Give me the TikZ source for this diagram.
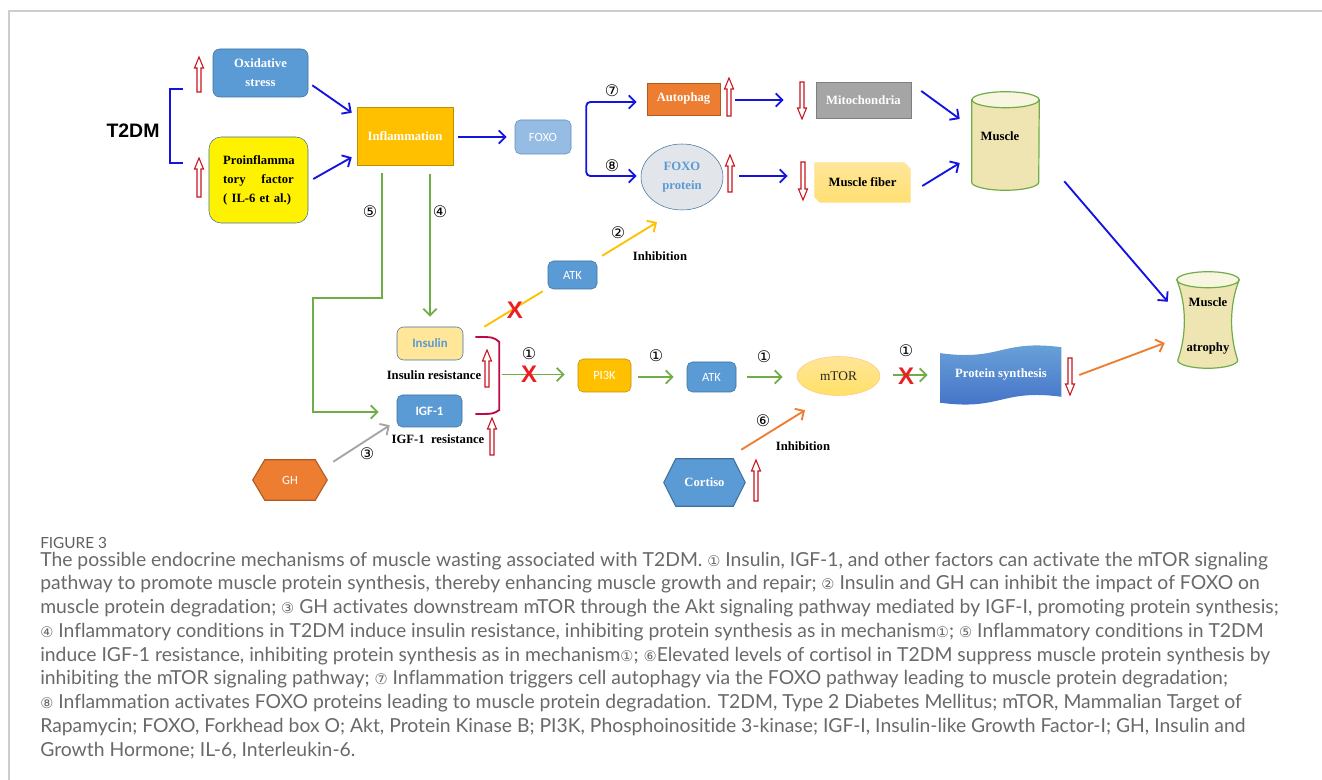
\documentclass[tikz,border=0pt]{standalone}
\usepackage{fontspec}
\setmainfont{Liberation Serif}
\newfontfamily\capfont[Ligatures=NoCommon]{Lato}
\newfontfamily\calfont{Carlito}
\newfontfamily\arfont{Liberation Sans}
\newfontfamily\symfont{DejaVu Sans}
\usetikzlibrary{arrows.meta,shapes.geometric,backgrounds,calc}
\definecolor{cblue}{RGB}{20,20,225}
\definecolor{cgreen}{RGB}{112,173,71}
\definecolor{cyel}{RGB}{255,192,0}
\definecolor{corg}{RGB}{237,125,49}
\definecolor{cgray}{RGB}{165,165,165}
\definecolor{cred}{RGB}{200,20,30}
\definecolor{cx}{RGB}{235,30,35}
\definecolor{ccrim}{RGB}{190,10,70}
\definecolor{bfill}{RGB}{91,155,213}
\definecolor{bdraw}{RGB}{65,113,156}
\definecolor{lfill}{RGB}{150,188,228}
\definecolor{ldraw}{RGB}{95,140,195}
\definecolor{ofill}{RGB}{237,125,49}
\definecolor{odraw}{RGB}{174,90,33}
\definecolor{yfill}{RGB}{255,192,0}
\definecolor{ydraw}{RGB}{191,144,0}
\definecolor{mgray}{RGB}{127,127,127}
\definecolor{egray}{RGB}{226,229,234}
\definecolor{capgray}{RGB}{105,105,105}
\definecolor{figgray}{RGB}{95,95,95}
\definecolor{framegray}{RGB}{205,205,205}
\definecolor{musfill}{RGB}{238,229,178}
\definecolor{insfill}{RGB}{255,230,153}
\newcommand\ccap[1]{{\symfont\fontsize{11}{12}\selectfont #1}}
\newcommand\hup[3]{\draw[hollow] (#1-2,#3) -- (#1-2,#2+11) -- (#1-4.5,#2+11) -- (#1,#2) -- (#1+4.5,#2+11) -- (#1+2,#2+11) -- (#1+2,#3) -- cycle;}
\newcommand\hdn[3]{\draw[hollow] (#1-2,#2) -- (#1-2,#3-11) -- (#1-4.5,#3-11) -- (#1,#3) -- (#1+4.5,#3-11) -- (#1+2,#3-11) -- (#1+2,#2) -- cycle;}
\tikzset{
  sz/.style 2 args={minimum width=#1*0.75pt, minimum height=#2*0.75pt, inner sep=0pt},
  lbl/.style={font=\fontsize{9.5}{14.25}\selectfont\bfseries},
  cal/.style={font=\calfont\fontsize{9.4}{11}\selectfont},
  hollow/.style={draw=cred, fill=white, line width=0.8pt},
  tipb/.style={-{Straight Barb[length=5pt,width=10pt]}},
  barrow/.style={draw=cblue, line width=1.4pt, tipb},
  garrow/.style={draw=cgreen, line width=1.4pt, tipb},
  oarrow/.style={draw=corg, line width=1.4pt, tipb},
  yarrow/.style={draw=cyel, line width=1.4pt, tipb},
  grarrow/.style={draw=cgray, line width=1.4pt, tipb},
  xmark/.style={font=\arfont\bfseries\fontsize{18}{18}\selectfont, text=cx, inner sep=0pt},
  num/.style={font=\symfont\fontsize{12}{12}\selectfont, inner sep=0pt},
  captxt/.style={font=\capfont\fontsize{14.5}{17}\selectfont, text=capgray, inner sep=0pt, anchor=base west},
}
\begin{document}
\begin{tikzpicture}[x=0.75pt,y=-0.75pt]
\useasboundingbox (0,0) rectangle (1322,780);
\begin{scope}[on background layer]
\fill[white] (0,0) rectangle (1322,780);
\end{scope}
\draw[framegray, line width=1.1pt] (9,780) -- (9,11) -- (1322,11);

% ---------- nodes ----------
\node[font=\arfont\bfseries\fontsize{14.6}{16}\selectfont] (t2dm) at (133,131) {T2DM};
\node[fill=bfill, draw=bdraw, rounded corners=5pt, sz={95}{48}, text=white, lbl, align=center] (ox) at (260.5,73) {Oxidative\\stress};
\node[fill=yellow, draw=bdraw, rounded corners=9pt, sz={99}{86}] (pro) at (258.5,180) {};
\node[lbl, text width=53pt, align=left, inner sep=0pt] (protxt) at (258.5,180) {Proinflamma\\tory\hfill factor\\( IL-6 et al.)};
\node[fill=yfill, draw=ydraw, sz={96}{58}, text=white, lbl] (inf) at (405,136) {Inflammation};
\node[fill=lfill, draw=ldraw, rounded corners=4pt, sz={56}{34}, text=white, cal] (foxo) at (543,137) {FOXO};
\node[fill=ofill, draw=odraw, sz={73}{32}, text=white, lbl] (aut) at (683.5,99) {Autophag};
\node[fill=cgray, draw=mgray, sz={95}{36}, text=white, lbl] (mito) at (863.5,100) {Mitochondria};
\node[ellipse, fill=egray, draw=bdraw, sz={82}{66}, text=bfill, lbl, align=center] (foxop) at (682,177) {FOXO\\protein};
\node[sz={95}{39}, lbl] (fiber) at (862.5,182.5) {Muscle fiber};
\node[sz={67}{98}] (muscle) at (1005.5,141) {};
\node[lbl] (muscletxt) at (1000,136) {Muscle};
\node[sz={62}{96}] (atro) at (1208,320) {};
\node[font=\fontsize{9.5}{33.75}\selectfont\bfseries, align=center, inner sep=0pt] (atrotxt) at (1208,325.5) {Muscle\\atrophy};
\node[sz={120}{55}] (ps) at (1001,375) {};
\node[lbl, text=white] (pstxt) at (1001,374) {Protein synthesis};
\node[ellipse, top color=insfill, bottom color=yellow!60!orange!60, draw=orange!45, sz={83}{39}, font=\fontsize{10}{12}\selectfont, text=black!85] (mtor) at (838.5,376) {mTOR};
\node[fill=bfill, draw=bdraw, rounded corners=4pt, sz={49}{30}, text=white, cal] (atk2) at (711.5,377) {ATK};
\node[fill=yfill, draw=ydraw, rounded corners=4pt, sz={53}{33}, text=white, cal] (pi3k) at (604.5,375.5) {PI3K};
\node[fill=bfill, draw=bdraw, rounded corners=4pt, sz={49}{28}, text=white, cal] (atk1) at (572.5,275) {ATK};
\node[fill=insfill, draw=bdraw, rounded corners=5pt, sz={66}{33}, text=bfill, font=\calfont\bfseries\fontsize{9.6}{11}\selectfont] (ins) at (430,343.5) {Insulin};
\node[fill=bfill, draw=bdraw, rounded corners=4pt, sz={65}{32}, text=white, font=\calfont\bfseries\fontsize{9.6}{11}\selectfont] (igf) at (429.5,411) {IGF-1};
\node[sz={74}{40}, text=white, cal] (gh) at (290,480) {GH};
\node[sz={81}{47}, text=white, lbl] (cort) at (704.5,482.5) {Cortiso};

\node[lbl] (insres) at (434,375) {Insulin resistance};
\node[lbl] (igfres) at (438,439) {IGF-1\ \ resistance};
\node[lbl] (inh1) at (660,256) {Inhibition};
\node[lbl] (inh2) at (803,446) {Inhibition};

\node[num] (n7) at (612,91) {⑦};
\node[num] (n8) at (612,166) {⑧};
\node[num] (n5) at (370,212) {⑤};
\node[num] (n4) at (440,212) {④};
\node[num] (n1a) at (529,354) {①};
\node[num] (n1b) at (656,356) {①};
\node[num] (n1c) at (764,357) {①};
\node[num] (n1d) at (906,351) {①};
\node[num] (n2) at (618,233) {②};
\node[num] (n3) at (367,454) {③};
\node[num] (n6) at (763,421) {⑥};

% ---------- custom shapes (background) ----------
\begin{scope}[on background layer]
\shade[top color=insfill, bottom color=yellow!55!orange!55, draw=insfill]
 (fiber.north west) -- ([shift={(-6,0)}]fiber.north east) -- ([shift={(0,6)}]fiber.north east)
 -- (fiber.south east) -- ([shift={(5,0)}]fiber.south west) -- ([shift={(0,-5)}]fiber.south west) -- cycle;
\filldraw[fill=musfill, draw=cgreen, line width=0.9pt]
 ($(muscle.north west)+(0,8)$) -- ($(muscle.south west)+(0,-8)$)
 arc[start angle=180, end angle=0, x radius=33.5, y radius=8] -- ($(muscle.north east)+(0,8)$) -- cycle;
\filldraw[fill=white!60!musfill, draw=cgreen, line width=0.9pt] ($(muscle.north)+(0,8)$) ellipse [x radius=33.5, y radius=8];
\filldraw[fill=musfill, draw=cgreen, line width=0.9pt]
 ($(atro.north west)+(0,8)$) .. controls ($(atro.north west)+(10,33)$) and ($(atro.south west)+(10,-33)$) .. ($(atro.south west)+(1,-8)$)
 arc[start angle=180, end angle=0, x radius=30, y radius=8]
 .. controls ($(atro.north east)+(-10,63)$) and ($(atro.north east)+(-10,33)$) .. ($(atro.north east)+(0,8)$) -- cycle;
\filldraw[fill=white!60!musfill, draw=cgreen, line width=0.9pt] ($(atro.north)+(0,8)$) ellipse [x radius=31, y radius=8];
\shade[top color=bfill!90!white, bottom color=bfill!80!blue!90!black]
 ($(ps.north west)+(0,6)$) .. controls ($(ps.north west)+(60,14)$) and ($(ps.north east)+(-60,-8)$) .. (ps.north east)
 -- ($(ps.south east)+(0,-6)$) .. controls ($(ps.south east)+(-60,-14)$) and ($(ps.south west)+(60,8)$) .. (ps.south west) -- cycle;
\filldraw[fill=ofill, draw=odraw, line width=0.8pt]
 (gh.west) -- ([shift={(12,0)}]gh.north west) -- ([shift={(-12,0)}]gh.north east) -- (gh.east)
 -- ([shift={(-12,0)}]gh.south east) -- ([shift={(12,0)}]gh.south west) -- cycle;
\filldraw[fill=bfill, draw=bdraw, line width=0.8pt]
 (cort.west) -- ([shift={(12,0)}]cort.north west) -- ([shift={(-12,0)}]cort.north east) -- (cort.east)
 -- ([shift={(-12,0)}]cort.south east) -- ([shift={(12,0)}]cort.south west) -- cycle;
\end{scope}

% ---------- bracket for T2DM ----------
\draw[cblue, line width=1.4pt] ([shift={(19,-42)}]t2dm.east) -- ([shift={(6,-42)}]t2dm.east) -- ([shift={(6,32)}]t2dm.east) -- ([shift={(19,32)}]t2dm.east);

% ---------- connectors ----------
\draw[barrow] ([shift={(4,-12)}]ox.south east) -- ([shift={(-5,6)}]inf.north west);
\draw[barrow] ([shift={(5,-1)}]pro.east) -- ([shift={(-5,-8)}]inf.south west);
\draw[barrow] ([shift={(5,1)}]inf.east) -- ([shift={(-8,0)}]foxo.west);
\coordinate (br) at ([shift={(15,3)}]foxo.east);
\draw[barrow, rounded corners=3pt] (br) |- ([shift={(-10,3)}]aut.west);
\draw[barrow, rounded corners=3pt] (br) |- ([shift={(-4,-1)}]foxop.west);
\draw[barrow] ([shift={(15,1)}]aut.east) -- ([shift={(-32,0)}]mito.west);
\draw[barrow] ([shift={(10,-9)}]mito.east) -- ([shift={(-12,-22)}]muscle.west);
\draw[barrow] ([shift={(16,-1)}]foxop.east) -- ([shift={(-27,-6.5)}]fiber.west);
\draw[barrow] ([shift={(12,3.5)}]fiber.east) -- ([shift={(-12,22)}]muscle.west);
\draw[barrow] ([shift={(25,-9)}]muscle.south east) -- ([shift={(-9,30)}]atro.north west);
\draw[oarrow] ([shift={(18,0)}]ps.east) -- ([shift={(-12,23)}]atro.west);

\draw[garrow] ([shift={(-23,8)}]inf.south) -- ++(0,125) -- ++(-69,0) |- ([shift={(-18,1)}]igf.west);
\draw[garrow] ([shift={(25,9)}]inf.south) -- ([shift={(0,-10)}]ins.north);

\coordinate (bt) at ([shift={(12,-6.5)}]ins.east);
\coordinate (bb) at ([shift={(13,3)}]igf.east);
\draw[ccrim, line width=1.4pt] (bt) .. controls ($(bt)+(18,0)$) .. ($(bt)+(24,5)$) -- ($(bb)+(24,-4)$) .. controls ($(bb)+(18,0)$) .. (bb);
\draw[garrow] ($(bt)!0.5!(bb)+(27,-1)$) -- ([shift={(-13,-1)}]pi3k.west);
\draw[garrow] ([shift={(7,1.5)}]pi3k.east) -- ([shift={(-13,0)}]atk2.west);
\draw[garrow] ([shift={(11,0)}]atk2.east) -- ([shift={(-14,1)}]mtor.west);
\draw[garrow] ([shift={(13,-1)}]mtor.east) -- ([shift={(-13,0)}]ps.west);
\draw[oarrow] ([shift={(-4,-9)}]cort.north east) -- ([shift={(-33.5,14.5)}]mtor.south);
\draw[grarrow] ([shift={(6,2)}]gh.north east) -- ([shift={(-7,-2)}]igf.south west);
\draw[cyel, line width=1.4pt] ([shift={(21,0)}]ins.north east) -- ([shift={(-5,2)}]atk1.south west);
\draw[yarrow] ([shift={(5,-5)}]atk1.north east) -- ([shift={(-25,12)}]foxop.south);

\node[xmark] (x1) at (515,310) {X};
\node[xmark] (x2) at (529,374) {X};
\node[xmark] (x3) at (906,376) {X};

% ---------- hollow red arrows ----------
\hup{199}{57}{92}
\hup{199}{158}{197}
\hup{729}{78}{116}
\hup{730}{155}{192}
\hup{487}{350}{387}
\hup{492}{418}{455}
\hup{756}{460}{501}
\hdn{802}{82}{119}
\hdn{803}{162}{200}
\hdn{1070}{358}{395}

% ---------- caption ----------
\node[font=\capfont\fontsize{11.5}{13}\selectfont, text=figgray, inner sep=0pt, anchor=base west] (fig) at (40,549) {FIGURE 3};
\node[captxt] (c1) at (40,566) {The possible endocrine mechanisms of muscle wasting associated with T2DM. \ccap{①} Insulin, IGF-1, and other factors can activate the mTOR signaling};
\node[captxt] (c2) at (40,589.75) {pathway to promote muscle protein synthesis, thereby enhancing muscle growth and repair; \ccap{②} Insulin and GH can inhibit the impact of FOXO on};
\node[captxt] (c3) at (40,613.5) {muscle protein degradation; \ccap{③} GH activates downstream mTOR through the Akt signaling pathway mediated by IGF-I, promoting protein synthesis;};
\node[captxt] (c4) at (40,637.25) {\ccap{④} Inflammatory conditions in T2DM induce insulin resistance, inhibiting protein synthesis as in mechanism\ccap{①}; \ccap{⑤} Inflammatory conditions in T2DM};
\node[captxt] (c5) at (40,661) {induce IGF-1 resistance, inhibiting protein synthesis as in mechanism\ccap{①}; \ccap{⑥}Elevated levels of cortisol in T2DM suppress muscle protein synthesis by};
\node[captxt] (c6) at (40,684.75) {inhibiting the mTOR signaling pathway; \ccap{⑦} Inflammation triggers cell autophagy via the FOXO pathway leading to muscle protein degradation;};
\node[captxt] (c7) at (40,708.5) {\ccap{⑧} Inflammation activates FOXO proteins leading to muscle protein degradation. T2DM, Type 2 Diabetes Mellitus; mTOR, Mammalian Target of};
\node[captxt] (c8) at (40,732.25) {Rapamycin; FOXO, Forkhead box O; Akt, Protein Kinase B; PI3K, Phosphoinositide 3-kinase; IGF-I, Insulin-like Growth Factor-I; GH, Insulin and};
\node[captxt] (c9) at (40,756) {Growth Hormone; IL-6, Interleukin-6.};
\end{tikzpicture}
\end{document}
